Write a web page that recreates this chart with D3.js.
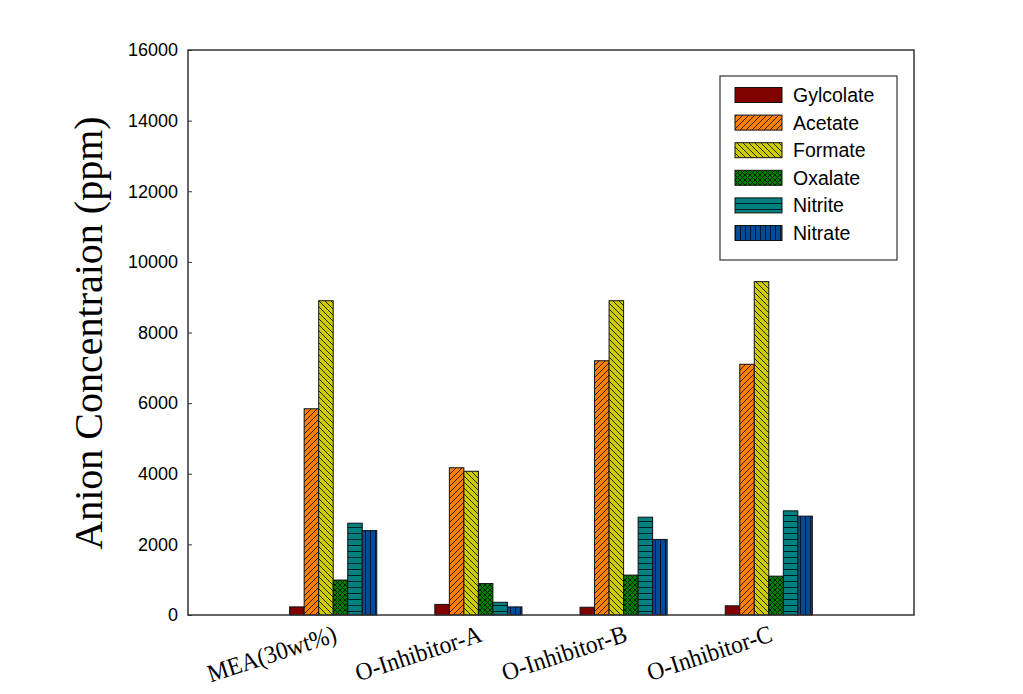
<!DOCTYPE html>
<html><head><meta charset="utf-8">
<script src="https://cdn.jsdelivr.net/npm/d3@7/dist/d3.min.js"></script>
<style>body{margin:0;background:#fff}svg{display:block}</style>
</head><body>
<svg id="c" width="1023" height="694"></svg>
<script>
const categories = ["MEA(30wt%)", "O-Inhibitor-A", "O-Inhibitor-B", "O-Inhibitor-C"];
const seriesNames = ["Gylcolate", "Acetate", "Formate", "Oxalate", "Nitrite", "Nitrate"];
const gylcolate = [230, 300, 220, 260];
const acetate   = [5840, 4170, 7200, 7100];
const formate   = [8900, 4070, 8900, 9440];
const oxalate   = [990, 890, 1130, 1100];
const nitrite   = [2600, 360, 2770, 2950];
const nitrate   = [2390, 230, 2140, 2800];
const seriesValues = [gylcolate, acetate, formate, oxalate, nitrite, nitrate];
const yTicks = [0, 2000, 4000, 6000, 8000, 10000, 12000, 14000, 16000];

const svg = d3.select("#c");
const L = 188, R = 914, T = 50, B = 615;
const x = d3.scaleLinear().domain([0, categories.length + 1]).range([L, R]);
const y = d3.scaleLinear().domain([0, 16000]).range([B, T]);
const unit = x(1) - x(0);
const bw = unit * 0.1;

// patterns
const defs = svg.append("defs");
const fills = ["#800000", "#ff8000", "#cccc00", "#008000", "#008080", "#004c99"];
function pat(id, bg, draw, w, h) {
  const p = defs.append("pattern").attr("id", id).attr("patternUnits", "userSpaceOnUse")
    .attr("width", w).attr("height", h);
  p.append("rect").attr("width", w).attr("height", h).attr("fill", bg);
  draw(p);
}
pat("p0", fills[0], p => {}, 6, 6);
pat("p1", fills[1], p => {
  p.append("path").attr("d", "M0,6 L6,0 M-1,1 L1,-1 M5,7 L7,5").attr("stroke", "#3a1a00").attr("stroke-width", 1);
}, 6, 6);
pat("p2", fills[2], p => {
  p.append("path").attr("d", "M0,0 L6,6 M5,-1 L7,1 M-1,5 L1,7").attr("stroke", "#2a2a00").attr("stroke-width", 1);
}, 6, 6);
pat("p3", fills[3], p => {
  p.append("path").attr("d", "M0,0 L5,5 M0,5 L5,0").attr("stroke", "#002000").attr("stroke-width", 1);
}, 5, 5);
pat("p4", fills[4], p => {
  p.append("path").attr("d", "M0,5.5 L6,5.5").attr("stroke", "#002020").attr("stroke-width", 1);
}, 6, 6);
pat("p5", fills[5], p => {
  p.append("path").attr("d", "M0.5,0 L0.5,6").attr("stroke", "#001530").attr("stroke-width", 1);
}, 5, 6);

// bars
seriesValues.forEach((vals, j) => {
  svg.append("g").selectAll("rect").data(vals).join("rect")
    .attr("x", (d, i) => x(i + 1) + (j - 3) * bw)
    .attr("y", d => y(d))
    .attr("width", bw)
    .attr("height", d => y(0) - y(d))
    .attr("fill", `url(#p${j})`)
    .attr("stroke", "#111").attr("stroke-width", 1);
});

// frame
svg.append("rect").attr("x", L).attr("y", T).attr("width", R - L).attr("height", B - T)
  .attr("fill", "none").attr("stroke", "#333").attr("stroke-width", 1.5);

// y axis
const yAxis = d3.axisLeft(y).tickValues(yTicks).tickSize(-4).tickPadding(10).tickFormat(d3.format("d"));
const ga = svg.append("g").attr("transform", `translate(${L},0)`).call(yAxis);
ga.select(".domain").remove();
ga.selectAll(".tick line").attr("stroke", "#333");
ga.selectAll("text").attr("font-family", "Arial, 'Liberation Sans', sans-serif").attr("font-size", 18).attr("fill", "#000");

// x labels
svg.append("g").selectAll("text").data(categories).join("text")
  .attr("transform", (d, i) => `translate(${x(i + 1) + 5},${641}) rotate(-18) scale(0.94,1)`)
  .attr("text-anchor", "end")
  .attr("font-family", "'Times New Roman', 'Liberation Serif', serif")
  .attr("font-size", 25)
  .text(d => d);

// y label
svg.append("text")
  .attr("transform", `translate(102,333) rotate(-90)`)
  .attr("text-anchor", "middle")
  .attr("font-family", "'Times New Roman', 'Liberation Serif', serif")
  .attr("font-size", 40)
  .text("Anion Concentraion (ppm)");

// legend
const lg = svg.append("g");
lg.append("rect").attr("x", 720).attr("y", 76).attr("width", 177).attr("height", 184)
  .attr("fill", "#fff").attr("stroke", "#333").attr("stroke-width", 1.2);
seriesNames.forEach((n, j) => {
  const cy = 95 + j * 27.6;
  lg.append("rect").attr("x", 735).attr("y", cy - 7.5).attr("width", 47).attr("height", 15)
    .attr("fill", `url(#p${j})`).attr("stroke", "#111").attr("stroke-width", 1);
  lg.append("text").attr("x", 793).attr("y", cy + 7)
    .attr("font-family", "Arial, 'Liberation Sans', sans-serif").attr("font-size", 19.5)
    .text(n);
});
</script>
</body></html>
